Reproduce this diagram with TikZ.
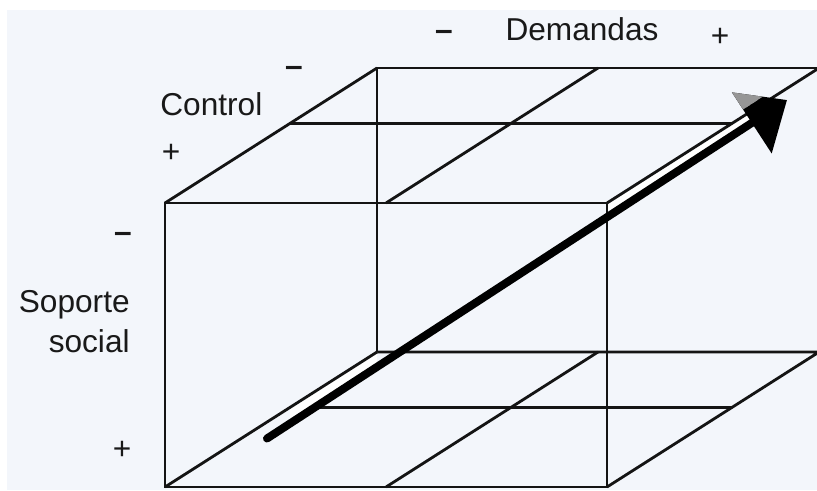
\documentclass[tikz,border=0pt]{standalone}
\usepackage{fontspec}
\setmainfont{Liberation Sans}
\usetikzlibrary{calc,arrows.meta}
\definecolor{BoxLine}{RGB}{20,20,20}
\definecolor{PageBg}{RGB}{243,246,251}
\definecolor{LabelInk}{RGB}{25,25,25}
\definecolor{TipGray}{RGB}{150,150,150}

\tikzset{
  edge/.style={BoxLine, line width=1.6pt},
  lbl/.style={LabelInk, font=\fontsize{18}{22}\selectfont, inner sep=0pt},
}

\begin{document}
\begin{tikzpicture}
      % Page and background
      \useasboundingbox (0,0) rectangle (16.34,9.8);
      \fill[white] (0,0) rectangle (16.34,9.8);
      \fill[PageBg] (0.14,0) rectangle (16.34,9.6);
      \clip (0,0) rectangle (16.34,9.8);

      % Cube corners
      \coordinate (FBL) at (3.30,0.06);
      \coordinate (FBR) at (12.14,0.06);
      \coordinate (FTL) at (3.30,5.74);
      \coordinate (FTR) at (12.14,5.74);
      \coordinate (BBL) at ($(FBL)+(4.24,2.70)$);
      \coordinate (BBR) at ($(FBR)+(4.24,2.70)$);
      \coordinate (BTL) at ($(FTL)+(4.24,2.70)$);
      \coordinate (BTR) at ($(FTR)+(4.24,2.70)$);

      % Arrow ends
      \coordinate (start) at (5.34,1.03);
      \coordinate (tip) at (15.74,7.80);

      % Back edges and inner grid
      \draw[edge] (BBL) -- (BTL) -- (BTR);
      \draw[edge] (FTL) -- (BTL);
      \draw[edge] (BBL) -- (BBR) -- (FBR);
      \foreach \a/\b/\c/\d in {FTL/BTL/FTR/BTR, FBL/BBL/FBR/BBR} {
        \draw[edge] ($(\a)!0.59!(\b)$) -- ($(\c)!0.59!(\d)$);
        \draw[edge] ($(\a)!0.5!(\c)$) -- ($(\b)!0.5!(\d)$);
      }

      % White halo above the shaft
      \fill[white] ($(FBL)!0.59!(BBL)$) -- (BBL) -- (7.54,2.546) -- (5.80,1.413) -- cycle;
      \fill[white] (FTR) -- (15.04,7.587) -- (15.04,7.428) -- (12.14,5.540) -- cycle;

      % Front face and the edges along the arrow
      \draw[edge] (FBL) rectangle (FTR);
      \draw[edge] (FBL) -- (BBL);
      \draw[edge] (FTR) -- (BTR);

      % Arrow
      \draw[black, line width=0.16cm, line cap=round, -{Triangle[length=0.84cm,width=1.42cm]}] (start) -- (tip);
      \begin{scope}
        \clip (14,7.05) -- (16.34,8.574) -- (16.34,9.8) -- (14,9.8) -- cycle;
        \draw[TipGray, line width=0.16cm, -{Triangle[length=0.84cm,width=1.42cm]}] (start) -- (tip);
      \end{scope}

      % Labels
      \node[lbl, anchor=base] (dminus) at (8.88,8.99) {\textbf{–}};
      \node[lbl, anchor=base] (dname) at (11.64,9.0) {Demandas};
      \node[lbl, anchor=base] (dplus) at (14.40,8.88) {+};
      \node[lbl, anchor=base] (cminus) at (5.88,8.27) {\textbf{–}};
      \node[lbl, anchor=base west] (cname) at (3.20,7.50) {Control};
      \node[lbl, anchor=base] (cplus) at (3.42,6.56) {+};
      \node[lbl, anchor=base] (sminus) at (2.46,4.95) {\textbf{–}};
      \node[lbl, anchor=base east] (sname) at (2.60,3.56) {Soporte};
      \node[lbl, anchor=base east] (sname2) at (2.60,2.76) {social};
      \node[lbl, anchor=base] (splus) at (2.44,0.62) {+};
\end{tikzpicture}
\end{document}
